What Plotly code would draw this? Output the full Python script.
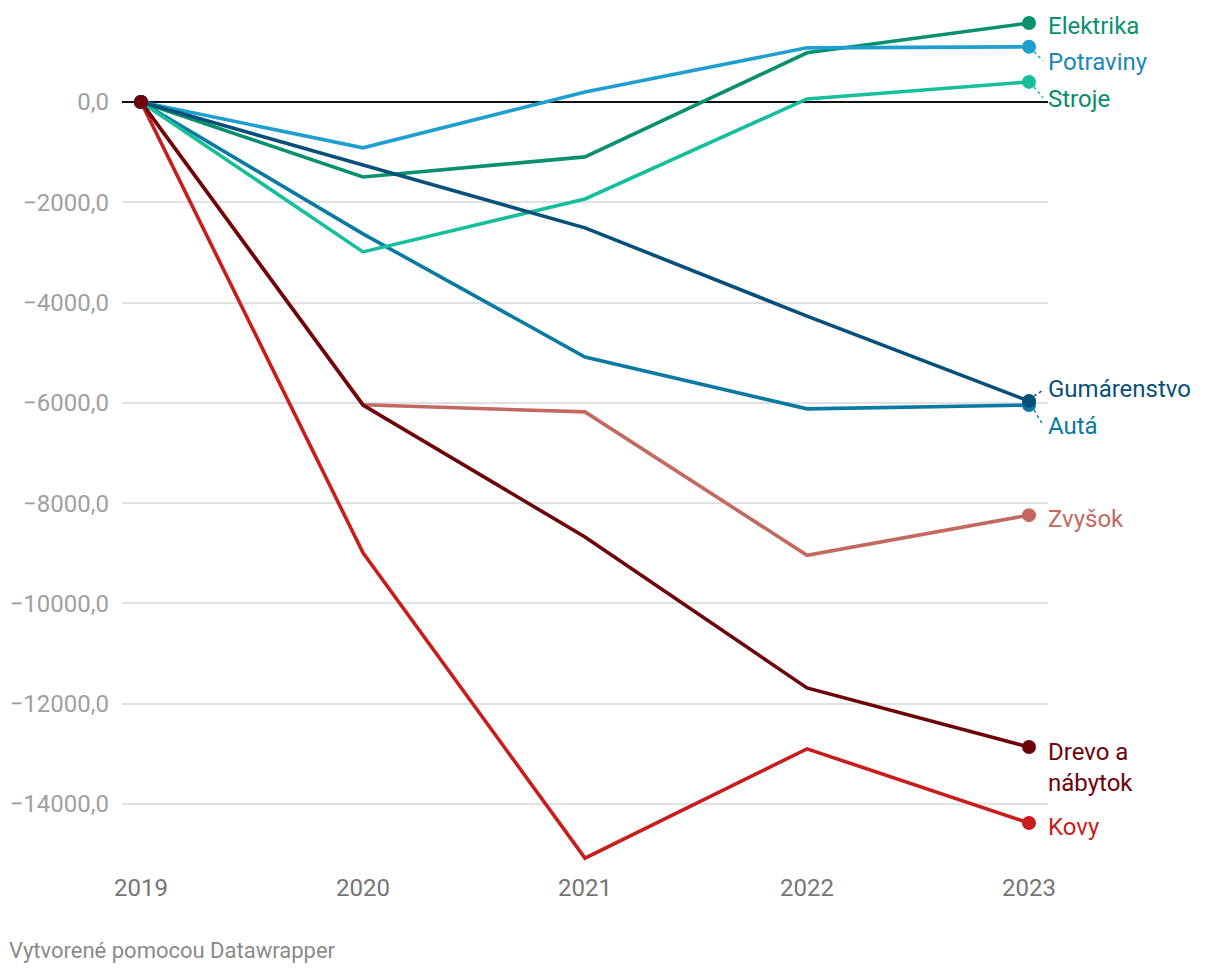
import plotly.graph_objects as go

years = [2019, 2020, 2021, 2022, 2023]

series_names = ["Kovy", "Zvyšok", "Autá", "Stroje", "Elektrika", "Potraviny", "Gumárenstvo", "Drevo a nábytok"]
kovy = [0, -8990, -15080, -12900, -14380]
zvysok = [0, -6040, -6180, -9040, -8240]
auta = [0, -2630, -5085, -6120, -6045]
stroje = [0, -2990, -1935, 60, 400]
elektrika = [0, -1495, -1095, 980, 1575]
potraviny = [0, -915, 200, 1080, 1100]
gumarenstvo = [0, -1260, -2510, -4270, -5965]
drevo = [0, -6045, -8675, -11685, -12865]

values = [kovy, zvysok, auta, stroje, elektrika, potraviny, gumarenstvo, drevo]

line_colors = ["#c71e1d", "#c4695f", "#0b7aa3", "#15bf9c", "#09906f", "#1f9fd0", "#08507a", "#6e0409"]
label_colors = ["#c71e1d", "#c4695f", "#0b78a1", "#0a8a6a", "#09906f", "#1a87b8", "#08507a", "#6e0409"]
label_texts = ["Kovy", "Zvyšok", "Autá", "Stroje", "Elektrika", "Potraviny", "Gumárenstvo", "Drevo a<br>nábytok"]
# pixel shifts of labels relative to end point (style only)
label_yshift = [-4, -4, -21, -17, -3, -15, 12, -4]
label_yanchor = ["middle", "middle", "middle", "middle", "middle", "middle", "middle", "top"]
connector = [False, False, True, True, False, True, True, False]

y_ticks = [0, -2000, -4000, -6000, -8000, -10000, -12000, -14000]
y_tick_labels = ["0,0", "−2000,0", "−4000,0", "−6000,0", "−8000,0", "−10000,0", "−12000,0", "−14000,0"]

fig = go.Figure()

for name, vals, col in zip(series_names, values, line_colors):
    fig.add_trace(go.Scatter(
        x=years, y=vals, mode="lines", name=name, cliponaxis=False,
        line=dict(color=col, width=3.6), hoverinfo="skip", showlegend=False,
    ))
for name, vals, col in zip(series_names, values, line_colors):
    fig.add_trace(go.Scatter(
        x=[years[0], years[-1]], y=[vals[0], vals[-1]], mode="markers", cliponaxis=False,
        marker=dict(color=col, size=14, line=dict(width=0)),
        hoverinfo="skip", showlegend=False,
    ))

for i, (vals, txt, lc) in enumerate(zip(values, label_texts, label_colors)):
    ys = label_yshift[i]
    anchor = label_yanchor[i]
    fig.add_annotation(
        x=years[-1], y=vals[-1], xref="x", yref="y", text=txt, showarrow=False,
        xanchor="left", yanchor=anchor, xshift=17,
        yshift=(ys + 15 if anchor == "top" else ys),
        font=dict(family="Roboto", size=24, color=lc), align="left",
    )
    if connector[i]:
        d = -1 if ys < 0 else 1
        fig.add_shape(
            type="line", xref="x", yref="y", xsizemode="pixel", ysizemode="pixel",
            xanchor=years[-1], yanchor=vals[-1],
            x0=5, x1=14, y0=d * 5, y1=d * (abs(ys) - 1),
            line=dict(color=line_colors[i], width=1.5, dash="dot"),
        )

fig.add_annotation(
    xref="paper", yref="paper", x=0, y=0, xanchor="left", yanchor="top",
    text="Vytvorené pomocou Datawrapper", showarrow=False,
    font=dict(family="Roboto", size=22, color="#8a8a8a"),
    xshift=-115, yshift=-75,
)

fig.update_layout(
    width=1220, height=974,
    margin=dict(l=114, r=180, t=13, b=121),
    paper_bgcolor="white", plot_bgcolor="white",
    font=dict(family="Roboto"),
    xaxis=dict(
        range=[2018.9144, 2023.0856], tickvals=years, ticktext=[str(y) for y in years],
        showgrid=False, zeroline=False, showline=False, ticks="",
        tickfont=dict(family="Roboto", size=24, color="#757575"),
        ticklabelstandoff=10, automargin=False,
    ),
    yaxis=dict(
        range=[-15137, 1615], tickvals=y_ticks, ticktext=y_tick_labels,
        showgrid=True, gridcolor="#e1e1e1", gridwidth=1.5,
        zeroline=True, zerolinecolor="#111111", zerolinewidth=1.5,
        showline=False, ticks="",
        tickfont=dict(family="Roboto", size=24, color="#a0a0a0"),
        ticklabelstandoff=12, automargin=False,
    ),
)

fig.write_html("out.html")
